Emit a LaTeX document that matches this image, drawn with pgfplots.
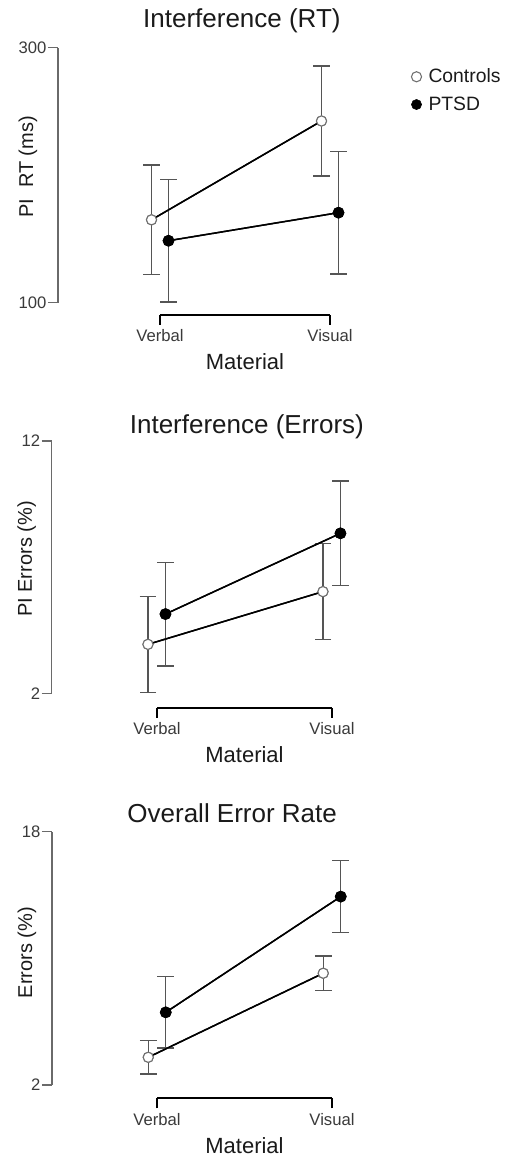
\documentclass[border=0pt]{standalone}
\usepackage{pgfplots}
\pgfplotsset{compat=1.18}
\usepackage{fontspec}
\setmainfont{Liberation Sans}
\definecolor{txt}{HTML}{1A1A1A}
\definecolor{tick}{HTML}{3A3A3A}
\definecolor{axl}{HTML}{6A6A6A}
\definecolor{eb}{HTML}{555555}
\definecolor{ring}{HTML}{707070}
\pgfplotsset{
  mainax/.style={
    scale only axis, clip=false,
    axis x line=none, axis y line=left,
    axis line style={-, draw=axl, line width=1.1pt},
    xmin=-0.6, xmax=2.0,
    tick align=outside, major tick length=7.5pt,
    tick style={draw=axl, line width=1.1pt},
    /pgf/number format/assume math mode=true,
    yticklabel style={font=\fontsize{12.5}{14}\selectfont, text=tick, inner sep=1pt},
    ylabel style={font=\fontsize{15}{18}\selectfont, text=txt, anchor=center},
    title style={font=\fontsize{19.5}{23}\selectfont, text=txt, anchor=center, yshift=-6pt},
  },
  brax/.style={
    scale only axis, clip=false,
    height=1pt, ymin=0, ymax=1,
    xmin=0, xmax=1,
    axis y line=none, axis x line=bottom,
    axis line style={-, draw=black, line width=1.5pt},
    xtick={0,1}, xticklabels={Verbal,Visual},
    tick align=outside, major tick length=7.5pt,
    tick style={draw=black, line width=1.3pt},
    xticklabel style={font=\fontsize{12.5}{14}\selectfont, text=tick},
    xlabel={Material},
    xlabel style={font=\fontsize{16.5}{19}\selectfont, text=txt, yshift=-2pt},
  },
  ebs/.style={forget plot,
    error bars/.cd, y dir=both, y explicit,
    error bar style={draw=eb, line width=1.1pt, solid},
    error mark options={rotate=90, draw=eb, line width=1.1pt, mark size=6.2pt}},
  ctl/.style={black, line width=1.1pt, mark=*, mark size=3.8pt,
    mark options={fill=white, draw=ring, line width=0.8pt}},
  ptsd/.style={black, line width=1.1pt, mark=*, mark size=3.8pt,
    mark options={fill=black, draw=black}},
}
\begin{document}
\begin{tikzpicture}
\path[use as bounding box] (0pt,0pt) rectangle (378.75pt,867pt);
% ---------- Panel 1 ----------
\begin{axis}[mainax,
  at={(43.5pt,639.975pt)}, anchor=south west,
  width=331.5pt, height=191.25pt,
  ymin=100, ymax=300, ytick={100,300},
  ylabel={PI\ \ RT (ms)},
  ylabel style={at={(axis description cs:-0.068,0.532)}},
  title={Interference (RT)},
  title style={at={(axis description cs:0.416,1.105)}},
  legend style={at={(axis description cs:0.79,0.832)}, anchor=west,
    draw=none, fill=none, font=\fontsize{14.5}{17}\selectfont,
    row sep=5pt, text=txt},
  legend cell align=left,
  legend image code/.code={\path[draw=none] (0pt,0pt) -- (7pt,0pt); \draw[#1] plot coordinates {(0pt,0pt)};},
]
\addplot[ctl, ebs] coordinates {(-0.05,165) +- (0,43) (0.95,242.5) +- (0,43)};
\addplot[ptsd, ebs] coordinates {(0.05,148.6) +- (0,48) (1.05,170.6) +- (0,48)};
\addplot[ctl, forget plot] coordinates {(-0.05,165) (0.95,242.5)};
\addplot[ptsd, forget plot] coordinates {(0.05,148.6) (1.05,170.6)};
\addlegendimage{only marks, mark=*, mark size=3.8pt, mark options={fill=white, draw=ring, line width=0.8pt}}
\addlegendentry{Controls}
\addlegendimage{only marks, mark=*, mark size=3.8pt, mark options={fill=black, draw=black}}
\addlegendentry{PTSD}
\end{axis}
\begin{axis}[brax, at={(120pt,630.75pt)}, anchor=south west, width=127.5pt]
\end{axis}
% ---------- Panel 2 ----------
\begin{axis}[mainax,
  at={(38.775pt,347.025pt)}, anchor=south west,
  width=341.25pt, height=189.225pt,
  ymin=2, ymax=12, ytick={2,12},
  ylabel={PI Errors (\%)},
  ylabel style={at={(axis description cs:-0.055,0.532)}},
  title={Interference (Errors)},
  title style={at={(axis description cs:0.429,1.057)}},
]
\addplot[ctl, ebs] coordinates {(-0.05,3.94) +- (0,1.9) (0.95,6.03) +- (0,1.9)};
\addplot[ptsd, ebs] coordinates {(0.05,5.14) +- (0,2.05) (1.05,8.34) +- (0,2.07)};
\addplot[ctl] coordinates {(-0.05,3.94) (0.95,6.03)};
\addplot[ptsd] coordinates {(0.05,5.14) (1.05,8.34)};
\end{axis}
\begin{axis}[brax, at={(117.75pt,336.225pt)}, anchor=south west, width=131.25pt]
\end{axis}
% ---------- Panel 3 ----------
\begin{axis}[mainax,
  at={(39pt,53.25pt)}, anchor=south west,
  width=341.25pt, height=189.975pt,
  ymin=2, ymax=18, ytick={2,18},
  ylabel={Errors (\%)},
  ylabel style={at={(axis description cs:-0.055,0.523)}},
  title={Overall Error Rate},
  title style={at={(axis description cs:0.396,1.074)}},
]
\addplot[ctl, ebs] coordinates {(-0.05,3.75) +- (0,1.07) (0.95,9.06) +- (0,1.08)};
\addplot[ptsd, ebs] coordinates {(0.05,6.59) +- (0,2.26) (1.05,13.9) +- (0,2.27)};
\addplot[ctl] coordinates {(-0.05,3.75) (0.95,9.06)};
\addplot[ptsd] coordinates {(0.05,6.59) (1.05,13.9)};
\end{axis}
\begin{axis}[brax, at={(117.75pt,43.275pt)}, anchor=south west, width=131.25pt]
\end{axis}
\end{tikzpicture}
\end{document}
